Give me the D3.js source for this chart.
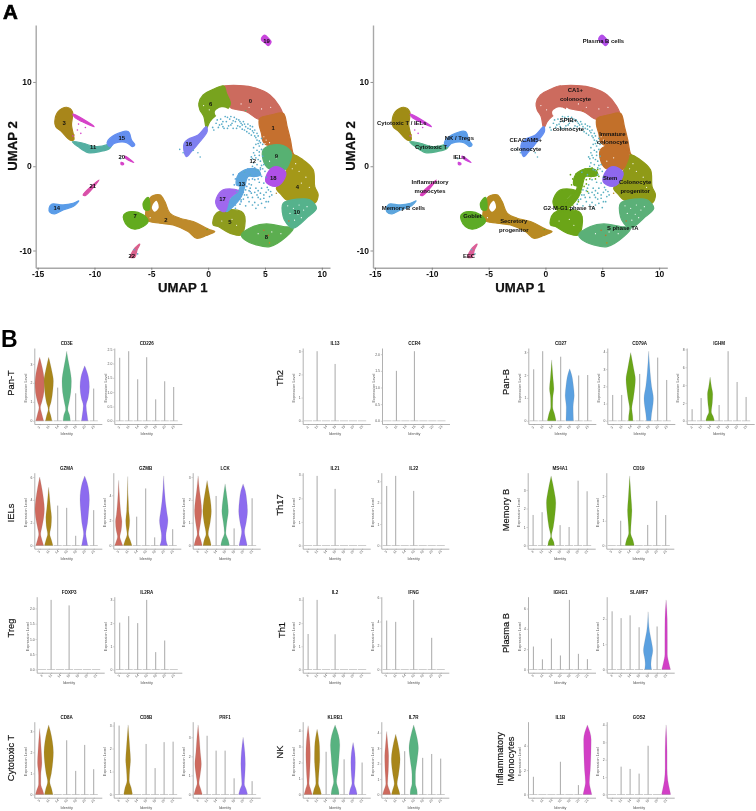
<!DOCTYPE html>
<html><head><meta charset="utf-8">
<script src="https://cdn.jsdelivr.net/npm/d3@7/dist/d3.min.js"></script>
<style>
html,body{margin:0;padding:0;background:#fff}
svg{display:block;font-family:"Liberation Sans",Arial,sans-serif;filter:blur(0.35px)}
</style></head><body>
<svg id="chart" width="756" height="811"></svg>
<script>
// ---------- UMAP data (outlines, UMAP units) ----------
const outline0=[[1.17,9.37],[2.79,9.57],[4.25,9.25],[5.43,8.46],[6.25,7.15],[6.54,6.09],[5.57,6.09],[4.49,5.57],[3.37,6.48],[1.91,7.0],[1.91,7.87],[1.32,8.66]];
const outline1=[[4.55,5.69],[5.57,6.09],[6.6,6.28],[6.95,4.7],[7.24,3.12],[7.48,1.5],[7.7,1.1],[6.6,2.33],[5.13,2.53],[4.84,2.92],[4.69,3.91],[4.49,4.9]];
const outline2=[[-5.43,-4.98],[-4.99,-3.6],[-4.25,-3.4],[-3.81,-4.19],[-3.37,-5.57],[-2.49,-6.17],[-1.32,-6.56],[0.15,-7.55],[0.59,-7.75],[-0.15,-8.22],[-1.03,-8.54],[-1.76,-7.75],[-3.08,-6.96],[-4.25,-6.76],[-5.43,-6.36]];
const outline3=[[-13.49,5.3],[-13.2,6.48],[-12.46,7.0],[-11.94,6.48],[-12.02,4.9],[-11.82,3.12],[-12.17,3.12],[-12.9,4.11],[-13.4,4.7]];
const outline4=[[7.42,1.34],[8.36,0.75],[9.24,-0.43],[9.38,-2.41],[9.68,-3.4],[9.38,-4.39],[8.65,-3.99],[6.89,-3.99],[6.45,-3.4],[6.0,-2.61],[6.6,-1.62],[6.89,-0.43]];
const outline5=[[0.44,-6.36],[0.73,-5.57],[1.61,-5.18],[2.93,-5.38],[3.23,-5.97],[2.93,-8.14],[1.91,-7.94],[0.88,-7.15],[0.44,-6.96]];
const outline6=[[-0.82,7.47],[-0.44,8.46],[0.44,9.13],[1.38,9.53],[1.61,8.66],[1.96,7.47],[1.76,6.88],[0.73,6.09],[0.15,5.3],[-0.15,4.5],[-0.38,5.9],[-0.73,6.7]];
const outline7=[[-7.42,-5.77],[-6.74,-5.38],[-5.72,-5.77],[-5.28,-6.56],[-5.72,-7.15],[-6.45,-7.47],[-7.04,-7.15],[-7.42,-6.36]];
const outline7b=[[-5.72,-4.39],[-5.28,-3.68],[-5.19,-5.18],[-5.57,-5.18]];
const outline8=[[2.93,-8.14],[3.96,-7.15],[5.13,-6.84],[6.6,-7.15],[7.48,-7.35],[6.89,-8.34],[5.43,-9.53],[4.25,-9.33],[3.23,-8.74]];
const outline9=[[4.84,1.94],[5.43,2.45],[6.6,2.45],[7.33,1.54],[7.13,0.36],[6.74,-0.43],[5.28,-0.24],[4.84,0.75]];
const outline10=[[6.6,-4.39],[7.77,-3.91],[8.94,-3.99],[9.53,-4.98],[8.8,-5.97],[7.48,-7.35],[6.89,-6.76],[6.6,-5.97]];
const outline11=[[-11.94,2.92],[-11.0,2.73],[-9.97,2.33],[-8.94,2.53],[-8.36,3.12],[-8.65,2.13],[-9.53,1.74],[-10.56,1.62],[-11.44,2.33]];
const outline13=[[2.49,-2.21],[2.64,-1.03],[3.52,-0.32],[4.4,-0.43],[4.6,-1.03],[4.11,-1.22],[3.52,-1.22],[3.23,-2.41],[2.93,-3.6],[2.2,-4.78],[1.61,-5.38],[1.91,-3.99],[2.64,-2.99],[2.79,-2.41]];
const outline14=[[-13.99,-4.98],[-13.78,-4.51],[-12.76,-4.59],[-11.88,-4.39],[-11.38,-4.11],[-11.88,-4.78],[-12.76,-5.18],[-13.49,-5.65],[-13.93,-5.45]];
const outline15=[[-8.89,2.81],[-8.21,3.72],[-7.04,4.11],[-6.74,3.12],[-6.45,2.53],[-6.66,2.33],[-7.18,2.81],[-8.21,2.73],[-8.65,2.33]];
const outline16=[[-2.11,2.73],[-1.76,3.2],[-0.88,3.72],[-0.15,4.7],[-0.09,4.11],[-0.73,2.92],[-1.47,1.74],[-1.91,1.15],[-2.14,1.94]];
const outline17=[[0.73,-3.79],[1.32,-2.81],[2.64,-2.89],[1.91,-3.79],[1.47,-5.38],[0.88,-4.98],[0.67,-4.39]];
const outline18=[[5.37,-0.51],[6.0,-0.04],[6.83,-0.75],[6.45,-2.0],[5.87,-2.4],[5.07,-1.82]];
const outline19=[[4.69,15.18],[4.99,15.57],[5.31,15.18],[5.54,14.78],[5.28,14.31],[4.99,14.66],[4.72,14.94]];
const outline20=[[-7.33,1.2],[-6.54,0.43],[-7.33,1.0]];
const outline20b=[[-7.65,0.47],[-7.45,0.36],[-7.45,0.2],[-7.65,0.2]];
const outline20c=[[-11.88,6.2],[-11.2,5.75],[-10.03,4.7],[-11.1,5.3],[-11.73,5.8]];
const outline21=[[-11.0,-3.4],[-9.6,-1.62],[-10.82,-3.48]];
const outline22=[[-6.83,-10.79],[-6.45,-9.72],[-6.01,-9.25],[-6.25,-9.92],[-6.45,-10.79]];
const outlines=[[0,outline0],[1,outline1],[2,outline2],[3,outline3],[4,outline4],[5,outline5],[6,outline6],[7,outline7],[7,outline7b],[8,outline8],[9,outline9],[10,outline10],[11,outline11],[13,outline13],[14,outline14],[15,outline15],[16,outline16],[17,outline17],[18,outline18],[19,outline19],[20,outline20],[20,outline20b],[20,outline20c],[21,outline21],[22,outline22]];
const cluster12Points=[[0.4,4.6],[0.7,5.1],[0.9,4.6],[1.1,5.6],[1.2,5.0],[1.4,4.5],[1.5,5.9],[1.6,5.3],[1.8,4.8],[1.9,5.6],[2.1,5.1],[2.2,4.5],[2.3,5.8],[2.4,5.3],[2.6,4.8],[2.7,5.5],[2.9,5.1],[3.0,4.4],[3.1,5.3],[3.3,4.7],[3.4,4.1],[3.5,5.0],[3.7,4.4],[3.8,3.7],[3.9,4.7],[4.0,4.0],[4.2,3.4],[4.3,3.9],[4.5,3.0],[4.5,2.4],[4.7,3.3],[4.8,2.6],[4.3,1.9],[4.5,1.3],[4.7,2.0],[4.0,1.6],[4.2,1.0],[4.6,0.6],[4.8,1.2],[4.3,0.2],[4.6,-0.2],[4.9,0.2],[4.0,0.4],[5.0,-0.6],[4.6,-1.0],[4.1,-1.6],[4.5,-1.9],[4.9,-2.0],[3.8,-2.2],[4.2,-2.6],[4.7,-2.6],[5.2,-2.5],[3.6,-2.9],[4.1,-3.1],[4.6,-3.2],[5.1,-3.1],[5.5,-3.0],[3.4,-3.4],[3.9,-3.7],[4.4,-3.7],[4.9,-3.8],[5.4,-3.6],[3.1,-3.9],[3.6,-4.2],[4.1,-4.3],[4.7,-4.4],[5.3,-4.2],[2.8,-4.5],[3.3,-4.7],[2.4,-5.0],[5.0,-4.9],[4.2,-5.0],[3.7,-1.0],[3.2,-0.7],[3.3,-2.8],[2.9,-4.0],[4.4,-0.5],[3.9,0.9],[5.1,-1.3],[4.4,2.7],
[0.5,4.3],[0.8,5.5],[1.0,4.9],[1.3,5.3],[1.3,4.7],[1.7,5.8],[1.7,4.5],[2.0,4.9],[2.0,5.9],[2.2,5.4],[2.5,4.5],[2.5,5.6],[2.8,4.7],[2.8,5.3],[3.0,4.9],[3.2,5.0],[3.2,4.3],[3.5,4.5],[3.6,3.9],[3.7,4.8],[3.9,4.2],[4.1,3.6],[4.1,4.3],[4.3,3.1],[4.4,3.6],[4.6,2.8],[4.2,2.6],[4.0,2.2],[4.4,0.8],[4.7,0.1],[4.1,1.3],[4.5,1.7],[3.8,1.1],[3.9,0.0],[4.2,-0.4],[4.8,-0.3],[3.7,-2.6],[4.4,-2.9],[4.9,-3.4],[5.3,-2.8],[4.3,-3.4],[3.8,-3.2],[4.6,-3.9],[5.1,-4.2],[4.4,-4.6],[3.9,-4.6],[3.5,-3.7],[3.2,-3.4],[5.6,-3.4]];
const cluster13Points=[[2.4,-1.5],[2.7,-0.9],[2.9,-1.8],[3.1,-0.6],[3.3,-1.4],[3.5,-0.3],[3.6,-1.6],[3.8,-0.5],[3.9,-1.5],[4.1,-0.2],[4.2,-0.9],[4.4,-1.5],[4.6,-0.4],[4.7,-1.2],[2.9,-2.7],[3.2,-2.0],[3.4,-2.4],[2.5,-3.0],[2.8,-3.3],[2.3,-3.6],[2.6,-3.9],[2.9,-4.2],[2.1,-4.3],[2.4,-4.6],[1.9,-4.8],[3.5,-0.9],[3.0,-1.1],[2.3,-2.2],[2.2,-1.0],[3.6,-2.1],[3.7,-3.0],[3.1,-3.1]];
const strayPoints=[[20,-11.5,4.3],[20,-11.2,3.9],[20,-11.9,3.6],[20,-10.8,4.6],[20,-11.4,5.0],[2,-11.8,3.7],[12,-2.5,2.0],[12,-2.2,1.6],[12,-0.9,1.6],[12,-0.7,1.1],[12,-1.3,1.9],[12,-6.5,-9.9],[12,-6.2,-10.4],[12,-7.7,0.9],[1,4.9,-7.6],[2,5.4,-9.1],[1,7.1,-6.5],[1,5.3,-8.2],[2,6.0,-3.2],[9,3.3,6.6],[7,-0.1,-7.5]];
const gapOutlines=[[[0.59,6.48],[1.17,7.0],[1.76,6.76],[1.32,6.09],[0.73,5.97]],[[-4.8,-4.4],[-4.55,-4.1],[-4.35,-4.9],[-4.69,-5.4],[-4.95,-4.98]]];
const gapSpecks=[[4.9,3.5],[5.1,3.1],[5.4,2.8],[5.0,2.7],[7.0,-4.7],[7.5,-5.0],[8.0,-4.6],[8.4,-5.2],[7.2,-5.6],[7.9,-5.7],[8.7,-4.8],[8.2,-6.1],[7.6,-6.4],[8.0,-0.6],[8.6,-1.3],[8.2,-2.0],[7.4,-0.3],[8.9,-2.5],[7.7,0.3],[1.2,-6.5],[2.1,-6.3],[2.5,-7.0],[4.4,-8.0],[5.6,-7.8],[6.4,-8.0],[3.6,7.0],[2.9,7.4],[4.7,6.8],[5.5,7.0],[-5.1,-6.1],[-0.4,7.2],[0.1,6.7],[6.0,1.0],[5.4,0.6]];
const clusterColorsLeft={0:"#CC6B5E",1:"#C5702F",2:"#BE8A2B",3:"#A8861A",4:"#A49818",5:"#8E9C1E",6:"#78A31E",7:"#62AB1E",8:"#5CAE50",9:"#57B172",10:"#55B28C",11:"#54AFA2",12:"#58ABC8",13:"#5CA5DD",14:"#5A9CE8",15:"#648FF0",16:"#8080F0",17:"#A068EE",18:"#B050E8",19:"#C845DC",20:"#D643C8",21:"#D94FA8",22:"#D9608C"};
const clusterColorsRight={0:"#CC6B5E",1:"#C2702A",2:"#B88A22",3:"#A08C15",4:"#8F9A17",5:"#6BA518",6:"#CC6B5E",7:"#5DAB25",8:"#5BB078",9:"#C2702A",10:"#5BB078",11:"#55B28C",12:"#5AB0C0",13:"#6BA518",14:"#5CA5DD",15:"#5A9CE8",16:"#648FF0",17:"#6BA518",18:"#8E68EE",19:"#B24FE8",20:"#CE45D8",21:"#D83FBC",22:"#DB5E97"};
const leftLabels=[["0",3.72,7.79],["1",5.72,4.51],["2",-3.72,-6.36],["3",-12.67,5.10],["4",7.86,-2.41],["5",1.91,-6.56],["6",0.23,7.43],["7",-6.42,-5.93],["8",5.13,-8.38],["9",6.01,1.26],["10",7.80,-5.42],["11",-10.12,2.25],["12",3.93,0.59],["13",2.96,-2.09],["14",-13.31,-4.94],["15",-7.60,3.40],["16",-1.70,2.65],["17",1.26,-3.87],["18",5.72,-1.34],["19",5.13,14.90],["20",-7.60,1.15],["21",-10.15,-2.33],["22",-6.72,-10.59]];
const rightLabels=[["Plasma B cells",5.10,14.90],["CA1+",2.64,9.01],["colonocyte",2.64,7.94],["SPIB+",2.02,5.53],["colonocyte",2.02,4.47],["Immature",5.89,3.87],["colonocyte",5.89,2.89],["Colonocyte",7.89,-1.90],["progenitor",7.89,-2.92],["Stem",5.69,-1.38],["Cytotoxic T / IELs",-12.64,5.14],["NK / Tregs",-7.57,3.36],["Cytotoxic T",-10.06,2.29],["IELs",-7.57,1.15],["CEACAM5+",-1.73,3.16],["colonocyte",-1.73,2.09],["Inflammatory",-10.15,-1.82],["monocytes",-10.15,-2.89],["Memory B cells",-12.49,-4.94],["Goblet",-6.42,-5.93],["Secretory",-2.79,-6.52],["progenitor",-2.79,-7.51],["EEC",-6.72,-10.59],["G2-M-G1 phase TA",2.11,-4.98],["S phase TA",6.80,-7.31]];
const umapXTicks=[-15,-10,-5,0,5,10];
const umapYTicks=[-10,0,10];

// ---------- Violin data ----------
const identities=["3","11","14","15","19","20","21"];
const identityColors=["#CE6A5E","#A8861A","#69A518","#57B280","#5AA0E0","#8C6BEF","#D23FC6"];
const genes=["CD3E","CD226","GZMA","GZMB","LCK","FOXP3","IL2RA","CD8A","CD8B","PRF1","IL13","CCR4","IL21","IL22","IL2","IFNG","KLRB1","IL7R","CD27","CD79A","IGHM","MS4A1","CD19","IGHG1","SLAMF7","IL1B","GOS2"];
const geneTicks=[["0","1","2","3"],["0.0","0.5","1.0","1.5","2.0","2.5"],["0","2","4","6"],["0","2","4"],["0","1","2","3"],["0.0","0.5","1.0","1.5","2.0"],["0","1","2","3"],["0","1","2","3"],["0","1","2","3"],["0","1","2","3"],["0","1","2","3"],["0.0","0.5","1.0","1.5","2.0"],["0","1","2","3"],["0","1","2","3"],["0","1","2","3"],["0","2","4","6"],["0","1","2","3","4"],["0","1","2","3","4"],["0","1","2","3"],["0","1","2","3","4"],["0","2","4","6","8"],["0","1","2","3"],["0","1","2"],["0","2","4","6"],["0","1","2"],["0","2","4"],["0","1","2","3","4"]];
const geneMaxima=[[3.35,3.35,1.75,3.67,1.45,2.9,1.7],[2.2,2.43,1.45,2.22,0.75,1.38,1.18],[6,5.1,3.5,3.3,0.85,6.1,3.1],[5.2,5.5,2.3,4.55,0.65,5.55,1.3],[3.05,2.85,2.17,2.7,0.75,2.7,2.07],[0,2.28,0,2.1,0,0,0],[2.02,2.3,2,3,0.75,1.25,0],[3.13,3.3,0,2.57,1.12,2.35,1.2],[3,3.03,0,2.2,1.15,2.28,2.3],[3.65,3.08,2.3,2.3,0.85,3,0.7],[0,3,0,2.45,0,0,0],[0,1.5,0,2.09,0,0,0],[0,2.95,0,2.4,0,0,0],[2.78,3.25,0,2.55,0,0,0],[1.53,3,0,1.52,0,0,0],[4.08,3.97,0,5.8,0,2.64,0],[4.3,4.08,2.67,4.35,2.2,3.25,2],[4.08,3.9,2.8,4.5,2.37,2.62,2.32],[2.25,3.04,2.66,2.8,2.27,1.98,2],[1.5,1.5,3.96,2.72,4.04,3.67,2.37],[1.3,2.55,4.9,1.77,7.8,4.35,2.67],[1.65,1.8,3.76,1.1,1,3.5,2.93],[0,1,2.81,0,0.83,1.8,1.23],[2.26,1,3.05,1.38,6.85,1.54,1.02],[2.3,2.03,2.14,1.67,2.28,1.7,2.75],[1.45,0,0,2.68,0,0.77,5.7],[0,1.6,1.47,1.2,2.8,0,4]];
// violin outlines: [gene, identity, [[expression, relative density], ...]]
const violinShapes=[
["CD3E","3",[[0,.75],[.35,.3],[.7,.05],[1,.3],[1.5,.85],[2,1],[2.5,.7],[3,.2],[3.35,0]]],
["CD3E","11",[[0,.55],[.3,.25],[.6,.03],[1,.35],[1.6,.8],[2.1,1],[2.6,.55],[3,.18],[3.35,0]]],
["CD3E","15",[[0,.65],[.3,.45],[.6,.1],[1,.35],[1.5,.8],[2.1,1],[2.7,.55],[3.2,.15],[3.67,0]]],
["CD3E","20",[[0,.55],[.3,.35],[.8,.15],[1.2,.6],[1.8,1],[2.3,.7],[2.9,0]]],
["GZMA","3",[[0,.75],[.5,.3],[1,.08],[1.6,.3],[2.5,.8],[3.2,1],[4,.75],[5,.3],[6,0]]],
["GZMA","11",[[0,.85],[.5,.4],[1,.1],[1.7,.35],[2.5,.45],[3.2,.25],[4,.1],[5.1,0]]],
["GZMA","20",[[0,.5],[.5,.25],[1,.1],[2,.45],[3,.75],[4,1],[4.8,.8],[5.5,.35],[6.1,0]]],
["GZMB","3",[[0,.8],[.3,.4],[.7,.12],[1.2,.35],[1.9,.55],[2.5,.3],[3.5,.1],[5.2,0]]],
["GZMB","11",[[0,.85],[.4,.4],[.9,.04],[1.6,.2],[2,.25],[2.7,.1],[5.5,0]]],
["GZMB","20",[[0,.75],[.4,.35],[.8,.3],[1.6,.7],[2,.85],[2.6,.55],[3.5,.2],[5.55,0]]],
["LCK","3",[[0,.8],[.25,.4],[.5,.07],[1,.35],[1.5,.65],[2,.4],[2.4,.15],[3.05,0]]],
["LCK","11",[[0,.8],[.25,.45],[.5,.1],[1,.5],[1.5,.85],[2,.55],[2.4,.2],[2.85,0]]],
["LCK","15",[[0,.9],[.25,.5],[.55,.05],[1,.2],[1.5,.55],[2,.3],[2.7,0]]],
["LCK","20",[[0,.8],[.25,.45],[.6,.15],[1,.5],[1.5,.9],[2,.65],[2.4,.3],[2.7,0]]],
["CD8A","3",[[0,.85],[.2,.5],[.5,.1],[.9,.1],[1.5,.3],[2,.2],[3.13,0]]],
["CD8A","11",[[0,.85],[.25,.5],[.6,.1],[1,.4],[1.6,.85],[2,1],[2.5,.7],[3,.2],[3.3,0]]],
["CD8B","11",[[0,.9],[.3,.5],[.6,.1],[1.1,.2],[1.5,.35],[2,.2],[3.03,0]]],
["PRF1","3",[[0,.85],[.25,.45],[.6,.08],[1,.25],[1.6,.55],[2.2,.3],[3,.1],[3.65,0]]],
["PRF1","20",[[0,.95],[.25,.55],[.55,.12],[1,.2],[1.6,.3],[2.2,.2],[3,0]]],
["KLRB1","3",[[0,.8],[.3,.4],[.7,.08],[1.2,.15],[2.5,.3],[3.3,.2],[4.3,0]]],
["KLRB1","11",[[0,.9],[.3,.55],[.7,.12],[1.3,.2],[2.2,.4],[3,.35],[4.08,0]]],
["KLRB1","15",[[0,.8],[.3,.6],[.8,.15],[1.4,.4],[2.5,.8],[3.1,1],[3.7,.6],[4.35,0]]],
["KLRB1","20",[[0,.8],[.3,.5],[.7,.1],[1.2,.2],[2,.3],[2.6,.2],[3.25,0]]],
["IL7R","3",[[0,.8],[.3,.4],[.7,.07],[1.5,.18],[2.5,.25],[3,.15],[4.08,0]]],
["IL7R","11",[[0,.85],[.3,.5],[.7,.15],[1.3,.45],[2.3,.9],[2.9,.6],[3.9,0]]],
["IL7R","15",[[0,.65],[.3,.55],[.7,.2],[1.3,.2],[2.2,.6],[3,1],[3.7,.55],[4.5,0]]],
["CD27","14",[[0,.9],[.3,.45],[.6,.08],[1,.1],[1.4,.3],[1.8,.15],[2.66,0]]],
["CD27","19",[[0,.7],[.2,.65],[.6,.6],[1.1,.95],[1.5,.7],[2,.25],[2.27,0]]],
["CD79A","14",[[0,.3],[.3,.25],[.7,.1],[1.3,.4],[2,.85],[2.4,1],[3,.5],[3.96,0]]],
["CD79A","19",[[0,.3],[.4,.45],[1,.9],[1.3,1],[2,.45],[2.8,.15],[4.04,0]]],
["IGHM","14",[[0,.9],[.5,.5],[1,.12],[2,.3],[3,.4],[3.8,.15],[4.9,0]]],
["MS4A1","14",[[0,.55],[.2,.4],[.5,.02],[1,.3],[1.7,.75],[2.3,1],[2.9,.55],[3.76,0]]],
["CD19","14",[[0,.95],[.2,.6],[.5,.08],[1,.18],[1.4,.3],[1.9,.15],[2.81,0]]],
["SLAMF7","19",[[0,.6],[.2,.45],[.4,.55],[.75,1],[1.1,.6],[1.5,.15],[2.28,0]]],
["SLAMF7","21",[[0,.9],[.25,.45],[.6,.12],[1.2,.12],[2,.1],[2.75,0]]],
["IL1B","21",[[0,.9],[.4,.55],[1,.25],[2,.45],[3.5,.65],[4.5,.7],[5.7,0]]],
["GOS2","21",[[0,.95],[.3,.6],[.8,.2],[1.5,.08],[2.5,.08],[4,0]]]
];
const groupNames=[["Pan-T"],["IELs"],["Treg"],["Cytotoxic T"],["Th2"],["Th17"],["Th1"],["NK"],["Pan-B"],["Memory B"],["Plasma B"],["Inflammatory","Monocytes"]];

// ---------- Layout ----------
const panelLeft={CD3E:34.3,CD226:114.3,GZMA:34.3,GZMB:113.3,LCK:192.7,FOXP3:36.7,IL2RA:114.3,CD8A:34.3,CD8B:113.7,PRF1:192.7,IL13:302.7,CCR4:382,IL21:302.7,IL22:381.3,IL2:302.7,IFNG:381.3,KLRB1:302.7,IL7R:381.3,CD27:528.3,CD79A:607.3,IGHM:686.7,MS4A1:527.7,CD19:606.3,IGHG1:528,SLAMF7:606.7,IL1B:528,GOS2:606.7};
const panelRow={CD3E:0,CD226:0,GZMA:1,GZMB:1,LCK:1,FOXP3:2,IL2RA:2,CD8A:3,CD8B:3,PRF1:3,IL13:0,CCR4:0,IL21:1,IL22:1,IL2:2,IFNG:2,KLRB1:3,IL7R:3,CD27:0,CD79A:0,IGHM:0,MS4A1:1,CD19:1,IGHG1:2,SLAMF7:2,IL1B:3,GOS2:3};
const rowBottom=[424,548.7,672.7,797.7];
const groupPos=[[11,383],[11,513],[11,628],[11,758],[280,378],[280,505],[282,630],[280,752],[506,382],[506,510],[506,633],[505.5,759]];

const svg=d3.select("#chart");
const ink="#111";
const axisGrey="#a8a8a8";
svg.append("text").attr("x",3).attr("y",18.6).attr("font-size",20.5).attr("font-weight","bold").attr("fill","#000").attr("stroke","#000").attr("stroke-width",.7).text("A");
svg.append("text").attr("x",1).attr("y",347).attr("font-size",23).attr("font-weight","bold").attr("fill","#000").text("B");

function drawUmap(xRange,colors,labels){
  const g=svg.append("g");
  const x=d3.scaleLinear([-15.17,10.72],xRange);
  const y=d3.scaleLinear([-12.04,16.76],[267.7,25]);
  const line=d3.line().x(d=>x(d[0])).y(d=>y(d[1])).curve(d3.curveCatmullRomClosed.alpha(0.5));
  const ax=g.append("g").attr("transform","translate(0,267.7)").call(d3.axisBottom(x).tickValues(umapXTicks).tickFormat(String).tickSize(2.5).tickPadding(1.2).tickSizeOuter(0));
  const ay=g.append("g").attr("transform",`translate(${xRange[0]},0)`).call(d3.axisLeft(y).tickValues(umapYTicks).tickFormat(String).tickSize(2.5).tickPadding(1.5).tickSizeOuter(0));
  [ax,ay].forEach(a=>{
    a.select(".domain").attr("stroke",axisGrey).attr("stroke-width",1.4);
    a.selectAll(".tick line").attr("stroke","#666").attr("stroke-width",.7);
    a.selectAll("text").attr("font-size",8.5).attr("font-weight","bold").attr("fill",ink).attr("font-family","Liberation Sans");
  });
  g.selectAll("path.cluster").data(outlines).join("path").attr("class","cluster")
    .attr("d",d=>line(d[1])).attr("fill",d=>colors[d[0]]).attr("stroke",d=>colors[d[0]]).attr("stroke-width",1.2).attr("stroke-linejoin","round");
  g.selectAll("path.gap").data(gapOutlines).join("path").attr("class","gap").attr("d",line).attr("fill","#fff");
  g.selectAll("circle.speck").data(gapSpecks).join("circle").attr("class","speck").attr("cx",d=>x(d[0])).attr("cy",d=>y(d[1])).attr("r",.6).attr("fill","#fff");
  g.selectAll("circle.c12").data(cluster12Points).join("circle").attr("class","c12").attr("cx",d=>x(d[0])).attr("cy",d=>y(d[1])).attr("r",.85).attr("fill",colors[12]);
  g.selectAll("circle.c13").data(cluster13Points).join("circle").attr("class","c13").attr("cx",d=>x(d[0])).attr("cy",d=>y(d[1])).attr("r",.85).attr("fill",colors[13]);
  g.selectAll("circle.stray").data(strayPoints).join("circle").attr("class","stray").attr("cx",d=>x(d[1])).attr("cy",d=>y(d[2])).attr("r",.8).attr("fill",d=>colors[d[0]]);
  g.selectAll("text.lab").data(labels).join("text").attr("class","lab").attr("x",d=>x(d[1])).attr("y",d=>y(d[2])).attr("dy","0.35em")
    .attr("text-anchor","middle").attr("font-size",5.9).attr("font-weight","bold").attr("fill",ink).text(d=>d[0]);
  g.append("text").attr("x",(xRange[0]+xRange[1])/2).attr("y",291.5).attr("text-anchor","middle").attr("font-size",13.2).attr("font-weight","bold").attr("fill",ink).attr("stroke",ink).attr("stroke-width",.25).text("UMAP 1");
  g.append("text").attr("transform",`translate(${xRange[0]-18.4},146) rotate(-90)`).attr("text-anchor","middle").attr("font-size",13.2).attr("font-weight","bold").attr("fill",ink).attr("stroke",ink).attr("stroke-width",.25).text("UMAP 2");
}
drawUmap([35.7,330],clusterColorsLeft,leftLabels);
drawUmap([373,667.3],clusterColorsRight,rightLabels);

const area=d3.area().curve(d3.curveMonotoneY);
genes.forEach((gene,gi)=>{
  const x0=panelLeft[gene], bottom=rowBottom[panelRow[gene]], top=bottom-76, zero=bottom-3.2;
  const maxima=geneMaxima[gi];
  const domainMax=d3.max(maxima);
  const yData=d3.scaleLinear([0,domainMax],[zero,top+3.2]);
  const y=d3.scaleLinear([yData.invert(bottom),yData.invert(top)],[bottom,top]);
  const x=d3.scalePoint(identities,[x0+5.4,x0+59.4]);
  const widthScale=d3.scalePow([0,1],[0,4.7]).exponent(0.62);
  const g=svg.append("g");
  const ay=g.append("g").attr("transform",`translate(${x0},0)`).call(d3.axisLeft(y).tickValues(geneTicks[gi].map(Number)).tickFormat((d,i)=>geneTicks[gi][i]).tickSize(1.2).tickSizeOuter(0));
  const ax=g.append("g").attr("transform",`translate(0,${bottom})`).call(d3.axisBottom(d3.scaleLinear([0,1],[x0,x0+67.5])).tickValues([]).tickSizeOuter(0));
  const at=g.append("g").attr("transform",`translate(0,${bottom})`).call(d3.axisBottom(x).tickSize(1.2).tickSizeOuter(0));
  at.select(".domain").remove();
  at.selectAll("text").attr("transform","translate(-1,3.5) rotate(-45)").attr("y",0).attr("dy","0.2em").attr("text-anchor","middle");
  [ax,ay].forEach(a=>a.select(".domain").attr("stroke",axisGrey).attr("stroke-width",.9));
  [ay,at].forEach(a=>{
    a.selectAll(".tick line").attr("stroke","#888").attr("stroke-width",.4);
    a.selectAll("text").attr("font-size",3.4).attr("fill","#555").attr("font-family","Liberation Sans");
  });
  ay.selectAll("text").attr("x",-2);
  g.append("text").attr("x",x0+32.4).attr("y",top-3).attr("text-anchor","middle").attr("font-size",4.5).attr("font-weight","bold").attr("fill",ink).text(gene);
  g.append("text").attr("x",x0+32.4).attr("y",bottom+11.2).attr("text-anchor","middle").attr("font-size",3.8).attr("fill","#555").text("Identity");
  g.append("text").attr("transform",`translate(${x0-7.3},${top+40}) rotate(-90)`).attr("text-anchor","middle").attr("font-size",3.8).attr("fill","#666").text("Expression Level");
  identities.forEach((id,ii)=>{
    const cx=x(id), m=maxima[ii];
    g.append("line").attr("x1",cx-4.1).attr("x2",cx+4.1).attr("y1",zero).attr("y2",zero).attr("stroke","#b8b8b8").attr("stroke-width",.7);
    const shape=violinShapes.find(v=>v[0]===gene&&v[1]===id);
    if(shape){
      area.y(d=>yData(d[0])).x0(d=>cx-widthScale(d[1])).x1(d=>cx+widthScale(d[1]));
      g.append("path").attr("d",area(shape[2])).attr("fill",identityColors[ii]).attr("stroke","#777").attr("stroke-width",.15);
    }else if(m>0){
      g.append("line").attr("x1",cx).attr("x2",cx).attr("y1",zero).attr("y2",yData(m)).attr("stroke","#999").attr("stroke-width",.85);
    }
  });
});

groupNames.forEach((lines,i)=>{
  const [gx,gy]=groupPos[i];
  const t=svg.append("text").attr("transform",`translate(${gx},${gy}) rotate(-90)`).attr("text-anchor","middle").attr("font-size",9.3).attr("fill",ink).attr("stroke",ink).attr("stroke-width",.18);
  lines.forEach((s,k)=>t.append("tspan").attr("x",0).attr("y",(k-(lines.length-1)/2)*11+3).text(s));
});
</script>
</body></html>
